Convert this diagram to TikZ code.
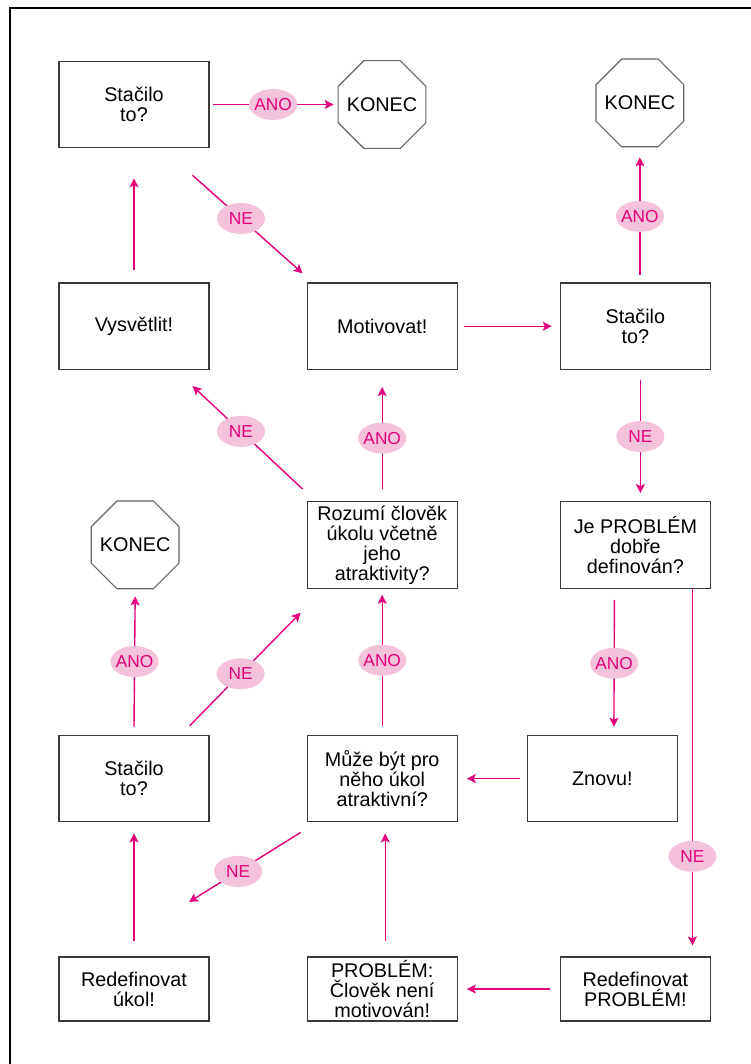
\documentclass[tikz,border=0pt]{standalone}
\usepackage{fontspec}
\setmainfont{Liberation Sans}
\usetikzlibrary{positioning}
\usetikzlibrary{shapes.geometric}
\usetikzlibrary{arrows.meta}
\definecolor{ruzova}{HTML}{E4007C}
\definecolor{svetleruzova}{HTML}{F4C2DA}
\definecolor{ramecek}{HTML}{3A3A3A}

\begin{document}
\begin{tikzpicture}[%
    x=1pt, y=-1pt,
    >={Stealth[length=9pt,width=9pt,inset=2pt]},
boxnode/.style={rectangle, align=center, draw=ramecek, line width=1.2pt, fill=white, minimum width=150pt, minimum height=86.5pt, inner sep=1pt, font=\fontsize{19.8pt}{20pt}\selectfont},
lownode/.style={boxnode, minimum height=64pt},
stopnode/.style={regular polygon, regular polygon sides=8, draw=black!60, line width=1.1pt, minimum size=95pt, inner sep=-15pt, font=\fontsize{19.8pt}{20pt}\selectfont},
answernode/.style={ellipse, fill=svetleruzova, text=ruzova, minimum width=48pt, minimum height=31pt, inner xsep=-4pt, inner ysep=0pt, font=\fontsize{17.3pt}{18pt}\selectfont},
link/.style={->, draw=ruzova, line width=1.4pt}
]

\useasboundingbox (0,0) rectangle (751,1064);

% frame
\draw[line width=2pt] (10,1064) -- (10,8.5) -- (751,8.5);

% top nodes
\node[boxnode]      (stacilo1) at (134,104.5) {Stačilo\\to?};

\node[stopnode]     (konec1) [right=128pt of stacilo1] {KONEC};

% second row
\node[boxnode]      (vysvetlit) [below=134pt of stacilo1] {Vysvětlit!};

\node[boxnode]      (motivovat) [right=97pt of vysvetlit] {Motivovat!};

\node[boxnode]      (stacilo2) [right=102pt of motivovat] {Stačilo\\to?};

\node[stopnode]     (konec2) [above=135pt of stacilo2, xshift=4.5pt] {KONEC};

% third row
\node[boxnode]      (rozumi) [below=131pt of motivovat] {Rozumí člověk\\úkolu včetně\\jeho\\atraktivity?};

\node[boxnode]      (jeproblem) [below=131pt of stacilo2] {Je PROBLÉM\\dobře\\definován?};

\node[stopnode]     (konec3) [left=127pt of rozumi] {KONEC};

% fourth row
\node[boxnode]      (muze) [below=146pt of rozumi] {Může být pro\\něho úkol\\atraktivní?};

\node[boxnode]      (stacilo3) [left=97pt of muze] {Stačilo\\to?};

\node[boxnode]      (znovu) [right=69pt of muze] {Znovu!};

% bottom row
\node[lownode]      (problem) [below=134pt of muze] {PROBLÉM:\\Člověk není\\motivován!};

\node[lownode]      (redefukol) [left=97pt of problem] {Redefinovat\\úkol!};

\node[lownode]      (redefproblem) [right=102pt of problem] {Redefinovat\\PROBLÉM!};

\coordinate (nevolno) at (189,902);

% upper Lines
\draw[link] ([xshift=3pt]stacilo1.east) -- node[answernode] {ANO} ([xshift=-4pt]konec1.west);
\draw[link] ([xshift=-17pt,yshift=-27pt]stacilo1.south east) -- node[answernode, pos=0.44] {NE} ([xshift=-4pt,yshift=9pt]motivovat.north west);
\draw[link] ([yshift=12pt]vysvetlit.north) -- ([yshift=-30pt]stacilo1.south);
\draw[link] ([xshift=6pt]motivovat.east) -- ([xshift=-8pt]stacilo2.west);
\draw[link] ([xshift=4.5pt,yshift=7pt]stacilo2.north) -- node[answernode] {ANO} ([yshift=-10pt]konec2.south);
\draw[link] ([xshift=5pt,yshift=-10pt]stacilo2.south) -- node[answernode] {NE} ([xshift=5pt,yshift=8pt]jeproblem.north);

% middle Lines
\draw[link] ([yshift=12pt]rozumi.north) -- node[answernode] {ANO} ([yshift=-17pt]motivovat.south);
\draw[link] ([xshift=-4pt,yshift=12pt]rozumi.north west) -- node[answernode, pos=0.56] {NE} ([xshift=-17pt,yshift=-16pt]vysvetlit.south east);
\draw[link] ([xshift=-21pt,yshift=-11pt]jeproblem.south) -- node[answernode] {ANO} ([xshift=11.5pt,yshift=8pt]znovu.north);
\draw[link] ([xshift=57pt]jeproblem.south) -- node[answernode, pos=0.75] {NE} ([xshift=57pt,yshift=11pt]redefproblem.north);
\draw[link] ([xshift=-7pt]znovu.west) -- ([xshift=9pt]muze.east);
\draw[link] ([yshift=9pt]muze.north) -- node[answernode] {ANO} ([yshift=-6pt]rozumi.south);
\draw[link] ([xshift=-20pt,yshift=9pt]stacilo3.north east) -- node[answernode, pos=0.46] {NE} ([xshift=-6pt,yshift=-24pt]rozumi.south west);
\draw[link] ([yshift=8pt]stacilo3.north) -- node[answernode] {ANO} ([yshift=-7pt]konec3.south);

% lower Lines
\draw[link] ([xshift=-6pt,yshift=-10pt]muze.south west) -- node[answernode, pos=0.56] {NE} (nevolno);
\draw[link] ([yshift=15pt]redefukol.north) -- ([yshift=-11pt]stacilo3.south);
\draw[link] ([xshift=3pt,yshift=15pt]problem.north) -- ([xshift=3pt,yshift=-11pt]muze.south);
\draw[link] ([xshift=-10pt]redefproblem.west) -- ([xshift=9pt]problem.east);

\end{tikzpicture}
\end{document}
